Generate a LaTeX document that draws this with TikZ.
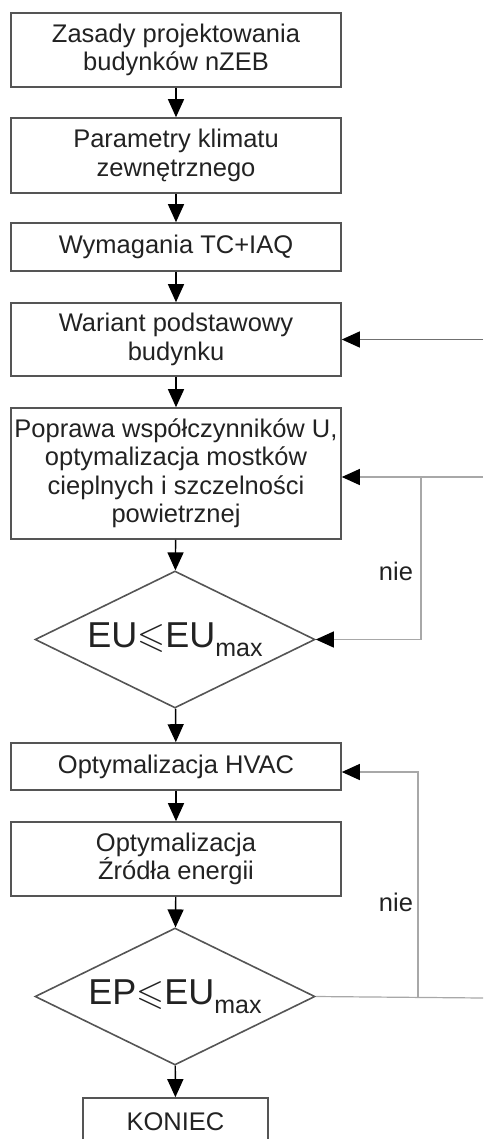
\documentclass[tikz,border=0pt]{standalone}
\usepackage{fontspec}
\setmainfont{Liberation Sans}
\usepackage{amssymb}
\usetikzlibrary{shapes.geometric,arrows.meta}

\definecolor{boxgray}{HTML}{555555}
\definecolor{textgray}{HTML}{222222}
\definecolor{loopgray}{HTML}{A8A8A8}
\definecolor{topgray}{HTML}{707070}

\newcommand{\sub}[1]{\raisebox{-9pt}{\fontsize{25}{25}\selectfont #1}}

\begin{document}
\begin{tikzpicture}[x=1pt,y=-1pt,
    tip/.style={-{Triangle[length=18pt,width=16pt,color=black]}}]

      \useasboundingbox (0,0) rectangle (483,1139);

      \begin{scope}[every node/.style={rectangle,draw=boxgray,line width=1.6pt,
          minimum width=330pt,inner sep=0pt,align=center,text=textgray,
          font=\fontsize{25.5}{28.5}\selectfont}]
        \node[minimum height=74pt]  (1)  at (176,50)    {Zasady projektowania\\budynków nZEB};
        \node[minimum height=75pt]  (2)  at (176,155.5) {Parametry klimatu\\zewnętrznego};
        \node[minimum height=48pt]  (3)  at (176,247)   {Wymagania TC+IAQ};
        \node[minimum height=73pt]  (4)  at (176,339.5) {Wariant podstawowy\\budynku};
        \node[minimum height=131pt] (5)  at (176,473.5) {Poprawa współczynników U,\\optymalizacja mostków\\cieplnych i szczelności\\powietrznej};
        \node[minimum height=47pt]  (7)  at (176,766.5) {Optymalizacja HVAC};
        \node[minimum height=74pt]  (8)  at (176,859)   {Optymalizacja\\Źródła energii};
        \node[minimum height=48pt,minimum width=185pt] (10) at (175.5,1122) {KONIEC};
      \end{scope}

      \begin{scope}[every node/.style={diamond,aspect=2.04,draw=boxgray,line width=1.6pt,
          minimum width=280pt,minimum height=137pt,inner sep=0pt,text=textgray,
          font=\fontsize{36}{36}\selectfont}]
        \node (6) at (175,639.5) {EU$\leqslant$EU\sub{max}};
        \node (9) at (175,996.5) {EP$\leqslant$EU\sub{max}};
      \end{scope}

      \begin{scope}[every node/.style={text=textgray,font=\fontsize{25.5}{25}\selectfont}]
        \node (n1) at (396,571) {nie};
        \node (n2) at (396,902) {nie};
      \end{scope}

      \coordinate (a) at (483,339.5);
      \coordinate (p) at (483,477);
      \coordinate (q) at (421,477);
      \coordinate (r) at (483,998);
      \coordinate (s) at (418,998);
      \coordinate (t) at (418,772);

      \begin{scope}[every edge/.style={draw,line width=1.4pt,tip}]
        \path (1) edge (2);
        \path (2) edge (3);
        \path (3) edge (4);
        \path (4) edge (5);
        \path (5) edge (6);
        \path (6) edge (7);
        \path (7) edge (8);
        \path (8) edge (9);
        \path (9) edge (10);
      \end{scope}

      % petle "nie"
      \draw[topgray,line width=1.3pt,tip] (a) -- (4);
      \draw[loopgray,line width=1.2pt,tip] (p) -- (p -| 5.east);
      \draw[loopgray,line width=1.2pt,tip] (q) |- (6.east);
      \draw[loopgray,line width=1.2pt] (9.east) -- (r);
      \draw[loopgray,line width=1.2pt,tip] (s) -- (t) -- (t -| 7.east);

    \end{tikzpicture}
\end{document}
